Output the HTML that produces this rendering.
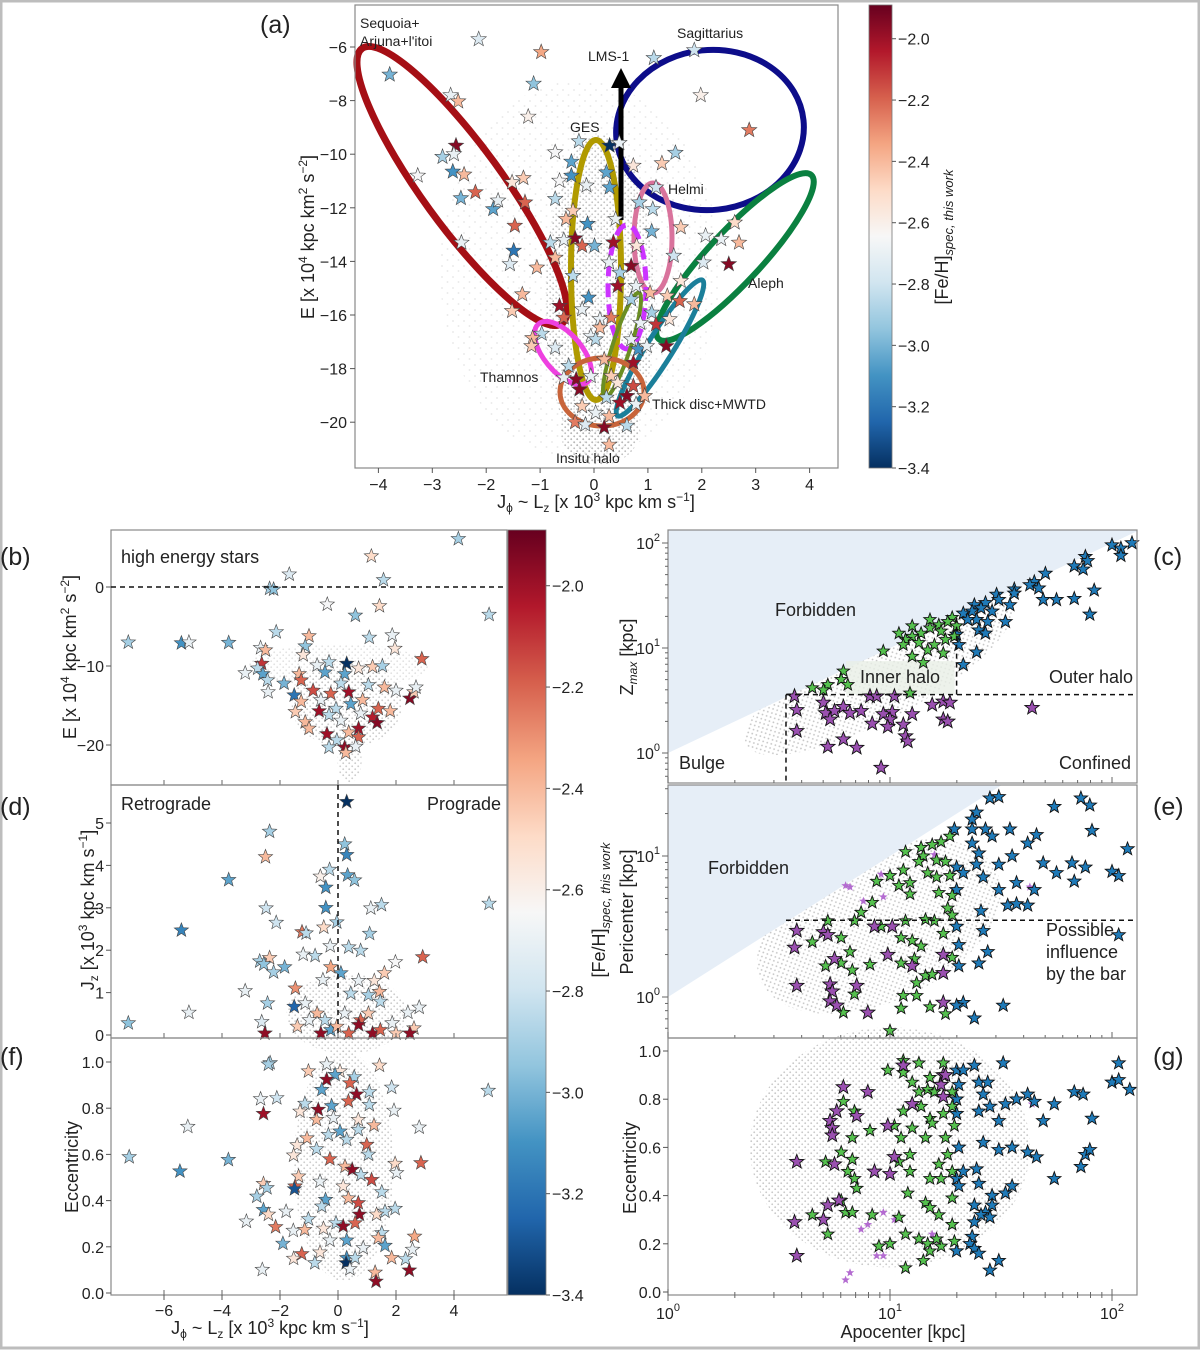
<!DOCTYPE html>
<html><head><meta charset="utf-8"><style>
html,body{margin:0;padding:0;background:#fff}
svg{display:block;font-family:"Liberation Sans","DejaVu Sans",sans-serif}
</style></head><body>
<svg id="fig" width="1200" height="1350" viewBox="0 0 1200 1350" xmlns="http://www.w3.org/2000/svg">
<defs>
<pattern id="dots" width="6" height="6" patternUnits="userSpaceOnUse"><circle cx="1.2" cy="1.2" r="0.9" fill="#b5b5b5"/><circle cx="4.2" cy="4.3" r="0.9" fill="#b5b5b5"/></pattern>
<pattern id="dots2" width="11" height="11" patternUnits="userSpaceOnUse"><circle cx="2" cy="2" r="0.9" fill="#c8c8c8"/><circle cx="7.5" cy="7" r="0.9" fill="#c8c8c8"/></pattern>
<linearGradient id="cmap" x1="0" y1="1" x2="0" y2="0">
<stop offset="0" stop-color="#053061"/><stop offset="0.1" stop-color="#2166ac"/><stop offset="0.2" stop-color="#4393c3"/><stop offset="0.3" stop-color="#92c5de"/><stop offset="0.4" stop-color="#d1e5f0"/><stop offset="0.5" stop-color="#f7f7f7"/><stop offset="0.6" stop-color="#fddbc7"/><stop offset="0.7" stop-color="#f4a582"/><stop offset="0.8" stop-color="#d6604d"/><stop offset="0.9" stop-color="#b2182b"/><stop offset="1" stop-color="#67001f"/>
</linearGradient>
<marker id="arrowhead" markerWidth="4" markerHeight="4" refX="2" refY="2" orient="auto"><path d="M0,0 L4,2 L0,4 Z" fill="#000"/></marker>
</defs>
<rect x="0" y="0" width="1200" height="1350" fill="#fff"/>
<rect x="1" y="1" width="1198" height="1347" fill="none" stroke="#bdbdbd" stroke-width="3"/>
<g id="layer"></g>
</svg>
<script>
// ---------- DATA ----------
const aLz=[-2.14,-0.98,-3.79,-1.12,-2.66,-2.52,1.11,1.86,1.98,2.88,-1.22,-2.56,-2.81,-2.6,-3.27,-2.62,-2.41,-2.47,-2.2,-1.87,-1.78,-1.52,-1.31,-1.28,-1.47,-2.46,-1.49,-1.56,-1.06,-1.33,-1.52,-0.72,-0.28,0.29,0.47,-0.42,-0.42,-0.64,-0.14,0.23,0.29,0.73,1.26,1.51,1.15,0.84,1.09,-0.72,-0.39,-0.52,-0.12,0.4,-0.35,-0.22,0.01,0.36,-0.56,-0.81,0.79,1.07,1.61,2.07,2.36,2.61,2.69,2.5,2.03,1.48,0.69,0.28,-0.72,-0.39,0.48,0.44,0.78,1.61,1.04,1.36,1.59,1.86,-0.1,-0.64,-0.56,-0.22,0.11,0.32,0.69,1.07,1.15,1.4,0.86,0.11,-0.06,-0.97,-1.14,-1.16,-0.72,0.03,0.69,0.82,0.98,1.34,0.73,0.19,-0.47,-0.56,-0.33,-0.27,-0.06,0.32,0.44,0.73,0.61,0.48,0.23,0.78,0.94,-0.22,0.03,0.28,-0.35,-0.16,0.19,0.61,0.28];
const aE=[-5.71,-6.19,-7.03,-7.37,-7.8,-8.03,-6.41,-6.12,-7.8,-9.1,-8.6,-9.68,-10.1,-10,-10.8,-10.65,-10.76,-11.64,-11.42,-12.05,-11.73,-11.05,-10.89,-11.8,-12.67,-13.3,-13.6,-14.1,-14.23,-15.23,-15.85,-9.93,-9.52,-9.68,-9.58,-10.28,-10.8,-10.99,-11.17,-10.68,-11.24,-10.43,-10.34,-9.95,-11.24,-11.8,-12.05,-11.67,-12.11,-12.42,-12.6,-12.42,-13.14,-13.42,-13.42,-13.29,-13.2,-13.3,-13.42,-12.88,-12.73,-13.04,-13.17,-12.55,-13.3,-14.1,-14.04,-13.79,-14.17,-14.04,-13.86,-14.54,-14.42,-14.92,-14.92,-14.73,-15.17,-15.29,-15.48,-15.6,-15.35,-15.66,-16.1,-15.79,-16.16,-16.1,-15.42,-15.91,-16.35,-16.16,-16.3,-16.47,-16.79,-16.7,-16.86,-17.16,-17.22,-16.91,-16.91,-17.28,-17.16,-17.16,-17.78,-17.66,-17.9,-18.34,-18.4,-18.78,-18.28,-18.28,-18.53,-18.65,-19.02,-19.27,-19.08,-19.33,-19.02,-19.4,-19.65,-19.78,-20,-20.09,-20.19,-20.13,-20.84];
const aFeh=[-2.75,-2.35,-3.0,-2.95,-2.7,-2.4,-2.85,-2.8,-2.6,-2.25,-2.6,-1.95,-2.9,-2.7,-2.65,-3.1,-2.4,-3.0,-2.2,-3.05,-2.7,-2.55,-2.45,-2.2,-2.2,-2.7,-3.2,-2.75,-2.4,-2.4,-2.45,-2.65,-2.85,-3.4,-2.7,-3.05,-3.1,-2.65,-2.7,-3.05,-3.05,-2.55,-2.45,-2.9,-2.8,-2.9,-2.85,-2.85,-2.45,-2.4,-3.1,-2.7,-1.95,-2.2,-3.0,-2.0,-2.7,-2.85,-2.55,-3.0,-2.45,-2.7,-2.7,-2.5,-2.4,-1.95,-2.75,-2.8,-1.95,-2.7,-2.4,-2.85,-2.9,-2.0,-2.7,-2.55,-2.4,-2.45,-2.2,-2.4,-3.1,-2.0,-2.2,-2.7,-2.7,-2.25,-2.9,-2.9,-2.1,-2.55,-2.7,-2.4,-2.7,-2.85,-2.4,-2.45,-2.75,-2.85,-2.7,-3.1,-2.7,-1.95,-2.0,-2.4,-2.85,-2.7,-1.95,-1.95,-2.7,-2.45,-2.55,-2.15,-1.95,-2.0,-2.85,-2.7,-2.4,-2.45,-2.7,-2.4,-2.25,-2.75,-1.95,-2.85,-2.4];
const bLz=[4.15,1.15,-1.68,-2.36,-2.22,1.57,-0.37,1.43,0.6,5.21,-7.23,-5.4,-5.14,-3.77,-2.13,-1.0,-1.13,-1.2,-2.67,-2.5,1.08,1.87,1.96,2.89,-3.2,-2.63,-2.77,-2.59,-2.43,-2.41,-1.86,-1.51,-1.34,-1.27,-0.72,-0.31,0.3,0.23,-0.45,0.71,1.19,1.53,1.05,1.6,2.0,2.48,2.62,2.69,-0.86,-0.25,0.37,0.1,-0.59,-0.07,0.44,0.85,-1.47,-1.13,-0.65,-0.31,0.1,1.19,1.35,1.8,1.39,0.78,0.71,0.37,-0.38,-0.04,0.71,0.23,0.61,-0.31,0.27,-1.0,-1.27];
const bE=[6.1,3.9,1.6,-0.2,-0.3,0.9,-2.2,-2.4,-3.6,-3.5,-7.0,-7.1,-7.0,-7.05,-5.7,-6.2,-7.5,-8.6,-7.7,-8.0,-6.4,-6.1,-7.8,-9.1,-10.9,-9.7,-10.3,-11.0,-11.8,-13.3,-12.2,-13.7,-11.0,-11.8,-9.9,-9.5,-9.7,-11.0,-10.8,-10.3,-10.1,-10.0,-12.4,-12.7,-13.1,-14.1,-13.3,-12.7,-13.1,-13.5,-13.3,-12.2,-14.3,-15.4,-14.8,-14.3,-15.8,-17.1,-15.7,-16.2,-16.9,-16.5,-17.2,-15.7,-15.4,-16.0,-17.9,-18.4,-18.6,-19.4,-19.0,-20.3,-20.2,-20.3,-21.0,-17.9,-14.5];
const bFeh=[-2.9,-2.5,-2.75,-2.9,-2.95,-2.85,-2.65,-2.5,-2.95,-2.85,-2.9,-3.1,-2.7,-3.0,-2.85,-2.4,-2.95,-2.55,-2.7,-2.4,-2.85,-2.7,-2.55,-2.2,-2.7,-2.1,-2.85,-3.05,-2.85,-2.7,-3.0,-3.2,-2.4,-2.2,-2.7,-2.85,-3.4,-3.05,-3.05,-2.55,-2.45,-2.9,-2.85,-2.4,-2.7,-1.95,-2.45,-2.7,-2.15,-2.2,-2.0,-2.85,-2.7,-2.85,-3.05,-2.4,-2.45,-2.4,-2.0,-2.85,-2.7,-2.05,-1.95,-2.4,-2.2,-2.7,-2.0,-2.4,-2.0,-2.85,-2.2,-1.97,-2.7,-2.85,-2.4,-2.4,-2.4];
const dLz=[0.3,-2.36,-2.5,0.23,0.3,0.33,0.57,-0.29,-0.61,-0.42,-3.77,-2.48,-0.42,1.13,1.5,5.21,-2.13,-0.04,-0.49,-1.24,-1.1,-5.4,1.09,-0.27,0.37,0.78,-1.2,-0.79,-2.7,-2.36,-2.56,-2.22,-1.84,2.92,1.98,-0.25,0.1,-0.52,1.6,1.25,0.71,-3.2,-1.47,0.44,1.05,1.43,1.46,-2.43,-1.51,-1.13,2.8,2.41,-5.14,-7.23,-2.63,-0.72,0.23,0.78,1.87,2.62,-2.52,-0.59,-0.25,-0.04,0.37,0.71,1.19,1.46,2.0,2.48,-1.4,-0.99,-0.45,1.05];
const dJz=[5.5,4.8,4.2,4.5,4.25,3.77,3.65,3.9,3.74,3.48,3.66,2.99,3.0,2.99,3.07,3.1,2.65,2.66,2.54,2.43,2.4,2.47,2.39,2.1,2.07,1.99,1.9,1.87,1.74,1.82,1.67,1.48,1.6,1.84,1.72,1.6,1.46,1.3,1.46,1.28,1.28,1.04,1.1,0.98,0.94,1.02,0.79,0.75,0.67,0.75,0.65,0.53,0.53,0.28,0.31,0.51,0.51,0.35,0.28,0.16,0.04,0.04,0.12,0.2,0.04,0.24,0.04,0.12,0.04,0.04,0.2,0.35,0.35,0.51];
const dFeh=[-3.4,-2.9,-2.4,-2.95,-3.15,-3.05,-2.95,-2.85,-2.6,-3.1,-3.05,-2.8,-3.1,-2.7,-2.85,-2.85,-2.8,-2.9,-2.5,-2.25,-2.85,-3.15,-2.9,-2.7,-2.85,-2.85,-2.7,-2.85,-2.9,-2.45,-2.95,-2.9,-3.0,-2.2,-2.65,-2.35,-3.05,-2.7,-2.45,-2.55,-2.7,-2.7,-2.3,-2.85,-2.9,-2.4,-2.85,-2.9,-3.25,-2.7,-2.7,-2.7,-2.7,-2.95,-2.75,-2.4,-2.7,-2.2,-2.7,-2.45,-1.97,-1.97,-3.05,-2.4,-2.2,-1.97,-1.97,-2.2,-2.45,-1.97,-2.45,-2.7,-2.85,-2.45];
const fLz=[-2.34,-2.4,-0.39,-1.02,0.07,-0.1,0.56,1.43,-0.39,0.41,-0.56,0.64,1.08,1.85,5.18,-2.67,-2.11,-1.14,-0.22,-0.68,0.36,1.08,-1.31,-2.57,-0.74,-0.16,0.7,1.93,-5.18,1.24,2.8,0.07,0.7,-0.33,-1.07,0.3,-1.41,0.99,-0.74,-1.53,-7.2,-3.78,1.05,-0.28,-5.45,1.97,2.86,2.02,0.24,0.49,1.16,0.79,-0.62,-1.36,-1.48,-1.5,-2.57,-2.45,-2.8,0.18,1.51,-0.43,0.36,0.7,-2.57,-2.4,-1.79,-0.56,0.74,1.62,1.97,1.33,-3.16,-1.02,-0.07,0.59,0.18,-2.15,-1.54,-1.15,-0.5,1.51,1.39,2.64,-0.28,0.3,-1.9,1.62,2.57,0.87,-0.62,-1.25,-1.53,-0.8,0.3,0.28,0.59,1.85,2.33,0.41,-2.61,1.28,2.46,1.31];
const fEcc=[0.996,0.99,0.99,0.96,0.96,0.945,0.935,0.985,0.924,0.909,0.88,0.86,0.87,0.89,0.876,0.84,0.844,0.82,0.81,0.794,0.83,0.815,0.786,0.776,0.75,0.758,0.75,0.79,0.72,0.726,0.717,0.7,0.707,0.685,0.67,0.664,0.64,0.642,0.623,0.596,0.589,0.577,0.6,0.58,0.527,0.56,0.563,0.52,0.548,0.534,0.49,0.512,0.483,0.505,0.462,0.45,0.473,0.455,0.418,0.462,0.437,0.404,0.41,0.39,0.36,0.34,0.353,0.375,0.34,0.353,0.365,0.34,0.31,0.32,0.303,0.303,0.289,0.286,0.27,0.274,0.279,0.26,0.238,0.245,0.228,0.228,0.214,0.205,0.188,0.195,0.176,0.169,0.149,0.13,0.152,0.13,0.152,0.152,0.147,0.104,0.101,0.089,0.098,0.05];
const fFeh=[-2.9,-2.9,-2.7,-2.45,-2.55,-3.05,-2.9,-2.5,-1.97,-2.2,-3.05,-1.97,-2.85,-2.8,-2.85,-2.7,-2.8,-2.85,-3.05,-1.97,-2.2,-2.85,-2.55,-2.0,-2.4,-2.7,-2.55,-2.7,-2.7,-2.4,-2.7,-3.05,-2.85,-2.85,-2.4,-2.85,-2.55,-2.2,-2.85,-2.55,-2.9,-3.0,-2.85,-2.2,-3.1,-2.5,-2.2,-2.7,-2.4,-1.97,-2.15,-2.85,-2.7,-2.45,-2.2,-3.3,-2.45,-2.9,-2.9,-2.55,-2.85,-3.05,-2.4,-2.15,-3.05,-2.5,-2.7,-2.85,-1.97,-2.85,-2.85,-2.5,-2.7,-2.85,-2.85,-2.2,-1.97,-2.25,-2.7,-2.4,-2.55,-2.85,-2.4,-2.35,-2.7,-3.05,-3.0,-3.05,-2.7,-2.7,-2.55,-2.2,-2.55,-2.85,-3.1,-3.4,-2.85,-2.4,-2.85,-2.7,-2.7,-2.4,-1.97,-1.97];
const cOuterLogApo=[2.0,2.04,2.09,2.04,1.88,1.89,1.83,1.87,1.70,1.65,1.63,1.67,1.56,1.56,1.48,1.49,1.43,1.38,1.41,1.46,1.37,1.33,1.39,1.44,1.52,1.35,1.40,1.43,1.30,1.31,1.39,1.33,1.69,1.83,1.92,1.90,1.75,1.54];
const cOuterLogZ=[1.98,1.95,2.0,1.88,1.87,1.83,1.78,1.75,1.71,1.63,1.60,1.57,1.56,1.52,1.51,1.46,1.43,1.41,1.38,1.35,1.35,1.33,1.27,1.25,1.25,1.27,1.17,1.14,1.13,1.03,0.96,0.84,1.46,1.47,1.55,1.32,1.46,1.41];
const cInnerLogApo=[1.28,1.26,1.22,1.18,1.23,1.14,1.10,1.07,1.13,1.20,1.25,1.17,1.10,1.24,1.06,0.97,0.79,0.78,0.81,0.72,0.65,0.70,1.09,1.15,1.30,1.29,1.04,1.10,1.18];
const cInnerLogZ=[1.29,1.25,1.22,1.19,1.16,1.14,1.11,1.08,1.05,1.03,1.08,0.98,0.92,0.95,1.03,0.97,0.78,0.70,0.65,0.65,0.62,0.60,0.57,0.86,1.21,1.11,1.14,1.21,1.27];
const cConfLogApo=[0.57,0.58,0.58,0.70,0.71,0.75,0.73,0.79,0.82,0.87,0.91,0.94,0.97,1.01,1.00,0.99,0.92,1.06,1.10,1.07,1.08,1.19,1.24,1.27,1.24,1.26,0.72,0.79,0.85,0.96,1.64,1.02];
const cConfLogZ=[0.54,0.41,0.21,0.48,0.38,0.40,0.32,0.44,0.38,0.40,0.54,0.54,0.37,0.39,0.32,0.25,0.28,0.27,0.37,0.16,0.11,0.46,0.49,0.48,0.32,0.30,0.06,0.13,0.05,-0.14,0.43,0.54];
const eOuterLogApo=[1.45,1.49,1.86,1.90,1.74,1.39,1.37,1.37,1.43,1.46,1.54,1.66,1.91,1.62,1.37,1.29,2.07,1.40,1.55,1.39,1.49,1.69,1.82,1.88,1.75,1.30,1.33,1.42,2.0,2.03,1.83,1.57,1.65,1.49,1.30,1.53,1.57,1.62,1.41,1.30,1.42,2.03,1.31,1.44,1.40,1.31,1.33,1.30,1.51,1.38];
const eOuterLogPeri=[1.41,1.42,1.41,1.36,1.35,1.31,1.26,1.19,1.19,1.14,1.19,1.15,1.18,1.09,1.09,1.19,1.05,1.02,1.0,0.94,0.94,0.95,0.95,0.92,0.88,0.92,0.88,0.85,0.89,0.86,0.82,0.81,0.76,0.76,0.76,0.65,0.66,0.65,0.61,0.5,0.47,0.44,0.37,0.32,0.24,0.22,-0.04,-0.06,-0.06,-0.15];
const eInnerLogApo=[1.27,1.19,1.14,1.23,1.15,1.13,1.21,1.07,1.17,1.25,1.06,1.0,0.94,1.09,1.04,1.21,1.27,1.22,1.28,1.09,0.92,1.26,1.28,0.87,0.72,0.84,0.96,1.07,1.16,1.20,1.24,1.05,1.10,1.14,0.65,0.78,0.82,0.71,0.78,0.83,0.91,1.05,1.11,1.16,1.19,1.28,1.12,0.84,1.06,1.12,1.05,1.18,1.25,0.79,1.0];
const eInnerLogPeri=[1.14,1.08,1.06,1.10,1.0,0.96,0.97,1.03,0.88,0.96,0.9,0.86,0.82,0.81,0.79,0.85,0.86,0.74,0.72,0.73,0.67,0.63,0.58,0.6,0.54,0.54,0.5,0.54,0.55,0.54,0.45,0.42,0.4,0.36,0.39,0.42,0.32,0.22,0.24,0.19,0.23,0.24,0.27,0.15,0.16,0.28,0.1,0.02,0.01,0.01,-0.08,-0.07,-0.12,-0.11,-0.24];
const eConfLogApo=[0.58,0.57,0.58,0.70,0.72,0.75,0.73,0.74,0.73,0.76,0.85,0.90,0.93,0.99,1.24,1.24,1.24,1.10,1.01];
const eConfLogPeri=[0.47,0.35,0.08,0.46,0.44,0.27,0.09,0.04,-0.03,-0.06,0.08,-0.11,0.5,0.3,0.3,0.17,-0.04,0.22,0.5];
const eFaintLogApo=[0.80,0.82,0.88,0.96,0.97,1.63,1.2];
const eFaintLogPeri=[0.79,0.78,0.68,0.87,0.71,0.78,1.01];
const gOuterLogApo=[2.03,2.0,2.03,2.08,1.91,1.83,1.87,1.74,1.62,1.57,1.52,1.65,1.69,1.49,1.40,1.44,1.38,1.51,1.30,1.33,1.31,1.42,1.40,1.45,1.30,1.30,1.42,1.49,1.55,1.62,1.66,1.88,1.90,1.86,1.74,1.31,1.33,1.39,1.40,1.30,1.31,1.46,1.52,1.55,1.38,1.46,1.43,1.41,1.45,1.38,1.37,1.36,1.38,1.40,1.30,1.49,1.45];
const gOuterEcc=[0.95,0.87,0.88,0.84,0.72,0.83,0.82,0.78,0.82,0.8,0.78,0.79,0.71,0.71,0.87,0.87,0.94,0.95,0.92,0.92,0.86,0.82,0.75,0.77,0.74,0.8,0.62,0.59,0.6,0.58,0.56,0.57,0.59,0.52,0.47,0.6,0.5,0.51,0.45,0.47,0.44,0.4,0.41,0.44,0.36,0.36,0.33,0.32,0.31,0.29,0.23,0.2,0.18,0.16,0.17,0.13,0.09];
const gInnerLogApo=[1.06,1.13,1.24,0.99,1.06,1.18,1.10,1.13,1.17,1.20,1.28,0.79,1.10,1.14,1.18,1.28,0.84,1.06,1.24,1.02,1.10,1.19,1.29,0.91,1.05,0.83,1.16,1.25,1.26,0.78,0.83,0.71,1.04,1.09,1.22,1.28,0.81,0.84,1.09,1.18,1.23,0.85,1.08,1.28,0.78,1.16,1.18,0.65,0.80,0.83,0.92,1.04,1.22,1.28,0.72,0.95,1.0,1.13,1.17,1.23,1.29,1.07,1.15,1.18,1.21,1.07];
const gInnerEcc=[0.96,0.95,0.95,0.92,0.91,0.89,0.87,0.83,0.84,0.83,0.83,0.79,0.78,0.77,0.72,0.77,0.75,0.75,0.74,0.69,0.68,0.7,0.69,0.67,0.64,0.64,0.64,0.64,0.57,0.58,0.55,0.54,0.54,0.57,0.53,0.5,0.5,0.47,0.5,0.47,0.47,0.43,0.41,0.39,0.38,0.37,0.35,0.32,0.33,0.33,0.32,0.31,0.32,0.28,0.24,0.19,0.2,0.22,0.2,0.19,0.21,0.1,0.13,0.17,0.22,0.24];
const gConfLogApo=[0.79,0.90,1.24,1.24,1.23,1.10,1.06,1.25,0.76,0.85,0.73,0.74,0.74,0.99,1.02,0.58,0.75,0.93,1.0,0.72,0.77,0.57,0.70,0.58];
const gConfEcc=[0.85,0.83,0.9,0.81,0.86,0.78,0.94,0.9,0.75,0.73,0.71,0.68,0.65,0.69,0.56,0.54,0.53,0.5,0.49,0.36,0.38,0.29,0.3,0.15];
const gFaintLogApo=[0.87,0.90,0.97,1.02,0.94,0.97,0.82,0.80,1.19,1.64];
const gFaintEcc=[0.26,0.28,0.33,0.3,0.15,0.15,0.08,0.05,0.24,0.78];
const cbTicks=[-2.0,-2.2,-2.4,-2.6,-2.8,-3.0,-3.2,-3.4];
const fehMin=-3.4, fehMax=-1.89;

// ---------- HELPERS ----------
const NS="http://www.w3.org/2000/svg";
const layer=document.getElementById('layer');
function mk(tag,attrs,parent){const el=document.createElementNS(NS,tag);for(const k in attrs)el.setAttribute(k,attrs[k]);(parent||layer).appendChild(el);return el;}
function grp(name){const g=mk('g',{});return g;}
const stops=['#053061','#2166ac','#4393c3','#92c5de','#d1e5f0','#f7f7f7','#fddbc7','#f4a582','#d6604d','#b2182b','#67001f'];
function hex(h){return [parseInt(h.slice(1,3),16),parseInt(h.slice(3,5),16),parseInt(h.slice(5,7),16)];}
function cmap(v){let t=(v-fehMin)/(fehMax-fehMin);t=Math.max(0,Math.min(1,t));const s=t*10;const i=Math.min(9,Math.floor(s));const f=s-i;const a=hex(stops[i]),b=hex(stops[i+1]);return 'rgb('+a.map((x,k)=>Math.round(x+(b[k]-x)*f)).join(',')+')';}
function starD(cx,cy,r){let d='';for(let i=0;i<10;i++){const ang=-Math.PI/2+i*Math.PI/5;const rr=i%2?r*0.42:r;d+=(i?'L':'M')+(cx+rr*Math.cos(ang)).toFixed(1)+','+(cy+rr*Math.sin(ang)).toFixed(1);}return d+'Z';}
function txt(x,y,s,size,anchor,parent,extra){const t=mk('text',Object.assign({x:x,y:y,'font-size':size,'text-anchor':anchor||'start',fill:'#222'},extra||{}),parent);t.textContent=s;return t;}
function fmt(v,d){return (v<0?'\u2212':'')+Math.abs(v).toFixed(d);}

// ---------- SCALES ----------
const A={x:v=>594+53.9*v,y:v=>47+(-6-v)*26.8,l:355,r:838,t:5,b:468};
const LX=v=>338+29*v;
const B={y:v=>587-7.9*v,t:530,b:785};
const D={y:v=>1035-42.4*v,t:785,b:1038};
const F={y:v=>1293-231*v,t:1038,b:1295};
const LL=111,LR=507;
const RX=v=>668+222*v;
const RL=668,RR=1137;
const C={y:v=>753-105*v,t:530,b:783};
const E={y:v=>997-141*v,t:785,b:1038};
const G={y:v=>1292-241*v,t:1038,b:1295};

// ---------- BACKGROUND CLOUDS ----------
const clouds=grp('background-stars');
[[600,300,55,165,'dots',0.85],[580,270,140,190,'dots2',0.45],[600,430,40,35,'dots',0.9]].forEach(c=>{const e=mk('ellipse',{cx:c[0],cy:c[1],rx:c[2],ry:c[3],fill:'url(#'+c[4]+')',opacity:c[5]},clouds);});
[[LX(0.3),B.y(-15),55,42,0.7],[LX(0.4),B.y(-22),12,22,0.7],[LX(0),B.y(-10),90,22,0.4],[LX(0.3),D.y(0.5),60,40,0.7],[LX(0.2),F.y(0.55),50,115,0.7]].forEach(c=>{const e=mk('ellipse',{cx:c[0],cy:c[1],rx:c[2],ry:c[3],fill:'url(#dots)',opacity:c[4]},clouds);});
[[RX(1.0),G.y(0.6),140,120,0],[RX(0.95),E.y(0.5),130,75,-25],[RX(0.95),C.y(0.75),150,45,-28]].forEach(c=>{const e=mk('ellipse',{cx:c[0],cy:c[1],rx:c[2],ry:c[3],fill:'url(#dots)',opacity:0.75,transform:'rotate('+c[4]+' '+c[0]+' '+c[1]+')'},clouds);});

// ---------- FORBIDDEN REGIONS ----------
const fc=grp('forbidden-regions');
let p1=mk('polygon',{points:[RL,C.y(0)].join(',')+' '+[RX(2.11),C.y(2.11)].join(',')+' '+RR+','+C.t+' '+RL+','+C.t,fill:'#e6eef7'},fc);

const eTopLog=(997-E.t)/141;
let p2=mk('polygon',{points:RL+','+E.y(0)+' '+RX(eTopLog)+','+E.t+' '+RL+','+E.t,fill:'#e6eef7'},fc);


// ---------- PANEL (a) ----------
const pa=grp('panel-a');
const ells=[['sequoia-ellipse',462,186,170,40,54,'#a50f15',7,''],['sagittarius-ellipse',710,130,94,80,-6,'#0d0d8a',6,''],['ges-ellipse',596,270,25,130,0,'#b09a00',6,''],['helmi-ellipse',653,238,19,55,0,'#d9739c',5,''],['lms1-ellipse',627,287,19,62,0,'#cc33ff',5,'14,7'],['aleph-ellipse',735,257,112,26,-47,'#0a8040',6,''],['thick-disc-ellipse',660,348,80,13,-58,'#1b7f9a',5,''],['mwtd-ellipse',622,345,55,9,-72,'#6b8e23',4,''],['thamnos-ellipse',563,353,38,19,50,'#ee40e0',5,''],['insitu-ellipse',602,392,42,34,0,'#c8643a',5,'']];
ells.forEach(e=>{const el=mk('ellipse',{cx:e[1],cy:e[2],rx:e[3],ry:e[4],transform:'rotate('+e[5]+' '+e[1]+' '+e[2]+')',fill:'none',stroke:e[6],'stroke-width':e[7],'stroke-dasharray':e[8]||'none'},pa);});
let arr=mk('line',{x1:621,y1:220,x2:621,y2:78,stroke:'#000','stroke-width':5,'marker-end':'url(#arrowhead)'},pa);

for(let i=0;i<aLz.length;i++){const s=mk('path',{d:starD(A.x(aLz[i]),A.y(aE[i]),8),fill:cmap(aFeh[i]),stroke:'#444','stroke-width':0.6},pa);

}
let fa=mk('rect',{x:A.l,y:A.t,width:A.r-A.l,height:A.b-A.t,fill:'none',stroke:'#888','stroke-width':1.2},pa);

for(let v=-4;v<=4;v++){mk('line',{x1:A.x(v),y1:A.b,x2:A.x(v),y2:A.b+5,stroke:'#555'},pa);const t=txt(A.x(v),A.b+22,fmt(v,0),16,'middle',pa);}
for(let v=-6;v>=-20;v-=2){mk('line',{x1:A.l-5,y1:A.y(v),x2:A.l,y2:A.y(v),stroke:'#555'},pa);const t=txt(A.l-8,A.y(v)+6,fmt(v,0),16,'end',pa);}
const annA=[['Sequoia+',360,28],["Arjuna+l'itoi",360,46],['Sagittarius',677,38],['LMS-1',588,61],['GES',570,132],['Helmi',668,194],['Aleph',748,288],['Thamnos',480,382],['Thick disc+MWTD',652,409],['Insitu halo',556,463]];
annA.forEach(a=>{const t=txt(a[1],a[2],a[0],14,'start',pa);});
let xta=mk('text',{x:596,y:508,'font-size':18,'text-anchor':'middle',fill:'#222'},pa);
xta.innerHTML='J<tspan font-size="12" dy="4">ϕ</tspan><tspan dy="-4"> ~ L</tspan><tspan font-size="12" dy="4">z</tspan><tspan dy="-4"> [x 10</tspan><tspan font-size="12" dy="-7">3</tspan><tspan dy="7"> kpc km s</tspan><tspan font-size="12" dy="-7">−1</tspan><tspan dy="7">]</tspan>';

function eTitle(x,y,parent,name){const t=mk('text',{x:0,y:0,'font-size':18,'text-anchor':'middle',fill:'#222',transform:'translate('+x+','+y+') rotate(-90)'},parent);t.innerHTML='E [x 10<tspan font-size="12" dy="-7">4</tspan><tspan dy="7"> kpc km</tspan><tspan font-size="12" dy="-7">2</tspan><tspan dy="7"> s</tspan><tspan font-size="12" dy="-7">−2</tspan><tspan dy="7">]</tspan>';}
eTitle(314,237,pa,'y-axis-title-a');
let la=txt(260,33,'(a)',25,'start',pa);

function colorbar(x,w,t,b,name,labelX,labelY){const g=grp(name);const r=mk('rect',{x:x,y:t,width:w,height:b-t,fill:'url(#cmap)',stroke:'#777','stroke-width':0.8},g);
const py=v=>b-(v-fehMin)/(fehMax-fehMin)*(b-t);
cbTicks.forEach(v=>{mk('line',{x1:x+w,y1:py(v),x2:x+w+4,y2:py(v),stroke:'#555'},g);const tt=txt(x+w+6,py(v)+6,fmt(v,1),16,'start',g);});
const lab=mk('text',{x:0,y:0,'font-size':18,'text-anchor':'middle',fill:'#222',transform:'translate('+labelX+','+labelY+') rotate(-90)'},g);
lab.innerHTML='[Fe/H]<tspan font-size="13" dy="5" font-style="italic">spec,  this work</tspan>';
}
colorbar(869,23,5,468,'colorbar-a',948,237);
colorbar(508,38,530,1295,'colorbar-left',605,910);

// ---------- LEFT PANELS b,d,f ----------
function leftPanel(name,S,xs,ys,cs,yticks,ydec,showX){const g=grp(name);
for(let i=0;i<xs.length;i++){const s=mk('path',{d:starD(LX(xs[i]),S.y(ys[i]),7.5),fill:cmap(cs[i]),stroke:'#444','stroke-width':0.6},g);

}
const fr=mk('rect',{x:LL,y:S.t,width:LR-LL,height:S.b-S.t,fill:'none',stroke:'#888','stroke-width':1.2},g);
for(let v=-6;v<=4;v+=2){mk('line',{x1:LX(v),y1:S.b,x2:LX(v),y2:S.b-5,stroke:'#666'},g);if(showX){mk('line',{x1:LX(v),y1:S.b,x2:LX(v),y2:S.b+5,stroke:'#555'},g);const t=txt(LX(v),S.b+21,fmt(v,0),16,'middle',g);}}
yticks.forEach(v=>{mk('line',{x1:LL-5,y1:S.y(v),x2:LL,y2:S.y(v),stroke:'#555'},g);const t=txt(LL-7,S.y(v)+6,fmt(v,ydec),16,'end',g);});
return g;}
const gb=leftPanel('panel-b',B,bLz,bE,bFeh,[0,-10,-20],0,false);
let hb=mk('line',{x1:LL,y1:B.y(0),x2:LR,y2:B.y(0),stroke:'#111','stroke-width':1.5,'stroke-dasharray':'5,4'},gb);
let tb=txt(121,563,'high energy stars',18,'start',gb);
eTitle(76,657,gb,'y-axis-title-b');
const gd=leftPanel('panel-d',D,dLz,dJz,dFeh,[5,4,3,2,1,0],0,false);
let vd=mk('line',{x1:LX(0),y1:D.t,x2:LX(0),y2:D.b,stroke:'#111','stroke-width':1.5,'stroke-dasharray':'5,4'},gd);
let tr=txt(121,810,'Retrograde',18,'start',gd);
let tp=txt(501,810,'Prograde',18,'end',gd);
let jt=mk('text',{x:0,y:0,'font-size':18,'text-anchor':'middle',fill:'#222',transform:'translate(94,910) rotate(-90)'},gd);
jt.innerHTML='J<tspan font-size="12" dy="4">z</tspan><tspan dy="-4"> [x 10</tspan><tspan font-size="12" dy="-7">3</tspan><tspan dy="7"> kpc km s</tspan><tspan font-size="12" dy="-7">−1</tspan><tspan dy="7">]</tspan>';

const gf=leftPanel('panel-f',F,fLz,fEcc,fFeh,[1.0,0.8,0.6,0.4,0.2,0.0],1,true);
let ft=mk('text',{x:0,y:0,'font-size':18,'text-anchor':'middle',fill:'#222',transform:'translate(78,1167) rotate(-90)'},gf);ft.textContent='Eccentricity';
let fxt=mk('text',{x:270,y:1334,'font-size':18,'text-anchor':'middle',fill:'#222'},gf);
fxt.innerHTML='J<tspan font-size="12" dy="4">ϕ</tspan><tspan dy="-4"> ~ L</tspan><tspan font-size="12" dy="4">z</tspan><tspan dy="-4"> [x 10</tspan><tspan font-size="12" dy="-7">3</tspan><tspan dy="7"> kpc km s</tspan><tspan font-size="12" dy="-7">−1</tspan><tspan dy="7">]</tspan>';

[['(b)',0,565],['(d)',0,815],['(f)',0,1065]].forEach(l=>{const t=txt(l[1],l[2],l[0],25,'start');});

// ---------- RIGHT PANELS c,e,g ----------
const popColor={outer:'#1f7ab8',inner:'#55c14e',conf:'#9a50b0'};
function drawStars(g,S,xs,ys,color,r,stroke,name){for(let i=0;i<xs.length;i++){const s=mk('path',{d:starD(RX(xs[i]),S.y(ys[i]),r),fill:color,stroke:stroke?'#111':'none','stroke-width':stroke?0.9:0},g);

}}
function rightFrame(g,S,name,showX){const fr=mk('rect',{x:RL,y:S.t,width:RR-RL,height:S.b-S.t,fill:'none',stroke:'#888','stroke-width':1.2},g);
for(let d=0;d<=2;d++){for(let m=1;m<10;m++){const lv=d+Math.log10(m);if(lv>2.11)continue;const x=RX(lv);mk('line',{x1:x,y1:S.b,x2:x,y2:S.b-(m==1?6:3),stroke:'#666'},g);if(showX){mk('line',{x1:x,y1:S.b,x2:x,y2:S.b+(m==1?6:3),stroke:'#666'},g);}}
if(showX){const t=mk('text',{x:RX(d),y:S.b+24,'font-size':16,'text-anchor':'middle',fill:'#222'},g);t.innerHTML='10<tspan font-size="11" dy="-8">'+d+'</tspan>';}}}
function logY(g,S,decs,lo,hi){for(let d=-1;d<=2;d++){for(let m=1;m<10;m++){const lv=d+Math.log10(m);if(lv<lo||lv>hi)continue;mk('line',{x1:RL-(m==1?6:3),y1:S.y(lv),x2:RL,y2:S.y(lv),stroke:'#666'},g);}}
decs.forEach(d=>{const t=mk('text',{x:RL-8,y:S.y(d)+6,'font-size':16,'text-anchor':'end',fill:'#222'},g);t.innerHTML='10<tspan font-size="11" dy="-8">'+d+'</tspan>';});}
const gc=grp('panel-c');
let ib=mk('rect',{x:RX(Math.log10(3.4))+60,y:C.y(Math.log10(7.5)),width:RX(1.3)-RX(Math.log10(3.4))-62,height:C.y(Math.log10(3.6))-C.y(Math.log10(7.5)),fill:'#e9efe6',opacity:0.8},gc);

drawStars(gc,C,cOuterLogApo,cOuterLogZ,popColor.outer,7,true,'outer-halo-star');
drawStars(gc,C,cInnerLogApo,cInnerLogZ,popColor.inner,6.5,true,'inner-halo-star');
drawStars(gc,C,cConfLogApo,cConfLogZ,popColor.conf,7.5,true,'confined-star');
const la34=Math.log10(3.4), lz36=Math.log10(3.6);
let dh=mk('line',{x1:RX(la34),y1:C.y(lz36),x2:RR,y2:C.y(lz36),stroke:'#111','stroke-width':1.5,'stroke-dasharray':'5,4'},gc);
let dv=mk('line',{x1:RX(la34),y1:C.y(lz36),x2:RX(la34),y2:C.b,stroke:'#111','stroke-width':1.5,'stroke-dasharray':'5,4'},gc);
let dv2=mk('line',{x1:RX(1.3),y1:C.y(lz36),x2:RX(1.3),y2:C.y(1.3),stroke:'#111','stroke-width':1.5,'stroke-dasharray':'5,4'},gc);
rightFrame(gc,C,'panel-c',false);logY(gc,C,[2,1,0],-0.3,2.12);
[['Forbidden',775,616,'start'],['Inner halo',860,683,'start'],['Outer halo',1133,683,'end'],['Bulge',679,769,'start'],['Confined',1131,769,'end']].forEach(l=>{const t=txt(l[1],l[2],l[0],18,l[3],gc);});
let zt=mk('text',{x:0,y:0,'font-size':18,'text-anchor':'middle',fill:'#222',transform:'translate(633,657) rotate(-90)'},gc);
zt.innerHTML='Z<tspan font-size="12" dy="4" font-style="italic">max</tspan><tspan dy="-4"> [kpc]</tspan>';
const ge=grp('panel-e');
drawStars(ge,E,eFaintLogApo,eFaintLogPeri,'#b36bd0',4.5,false,'faint-confined-star');
drawStars(ge,E,eOuterLogApo,eOuterLogPeri,popColor.outer,7,true,'outer-halo-star');
drawStars(ge,E,eInnerLogApo,eInnerLogPeri,popColor.inner,6.5,true,'inner-halo-star');
drawStars(ge,E,eConfLogApo,eConfLogPeri,popColor.conf,7.5,true,'confined-star');
let de=mk('line',{x1:RX(la34),y1:E.y(Math.log10(3.5)),x2:RR,y2:E.y(Math.log10(3.5)),stroke:'#111','stroke-width':1.5,'stroke-dasharray':'5,4'},ge);
rightFrame(ge,E,'panel-e',false);logY(ge,E,[1,0],-0.3,1.52);
let fe=txt(708,874,'Forbidden',18,'start',ge);
[['Possible',936],['influence',958],['by the bar',980]].forEach(l=>{const t=txt(1046,l[1],l[0],18,'start',ge);});
let pt=mk('text',{x:0,y:0,'font-size':18,'text-anchor':'middle',fill:'#222',transform:'translate(633,912) rotate(-90)'},ge);pt.textContent='Pericenter [kpc]';
const gg=grp('panel-g');
drawStars(gg,G,gFaintLogApo,gFaintEcc,'#b36bd0',4.5,false,'faint-confined-star');
drawStars(gg,G,gOuterLogApo,gOuterEcc,popColor.outer,7,true,'outer-halo-star');
drawStars(gg,G,gInnerLogApo,gInnerEcc,popColor.inner,6.5,true,'inner-halo-star');
drawStars(gg,G,gConfLogApo,gConfEcc,popColor.conf,7.5,true,'confined-star');
rightFrame(gg,G,'panel-g',true);
[1.0,0.8,0.6,0.4,0.2,0.0].forEach(v=>{mk('line',{x1:RL-5,y1:G.y(v),x2:RL,y2:G.y(v),stroke:'#555'},gg);const t=txt(RL-7,G.y(v)+6,v.toFixed(1),16,'end',gg);});
let gt=mk('text',{x:0,y:0,'font-size':18,'text-anchor':'middle',fill:'#222',transform:'translate(636,1168) rotate(-90)'},gg);gt.textContent='Eccentricity';
let at=txt(903,1338,'Apocenter [kpc]',18,'middle',gg);
[['(c)',1153,565],['(e)',1153,815],['(g)',1153,1065]].forEach(l=>{const t=txt(l[1],l[2],l[0],25,'start');});
</script>
</body></html>
